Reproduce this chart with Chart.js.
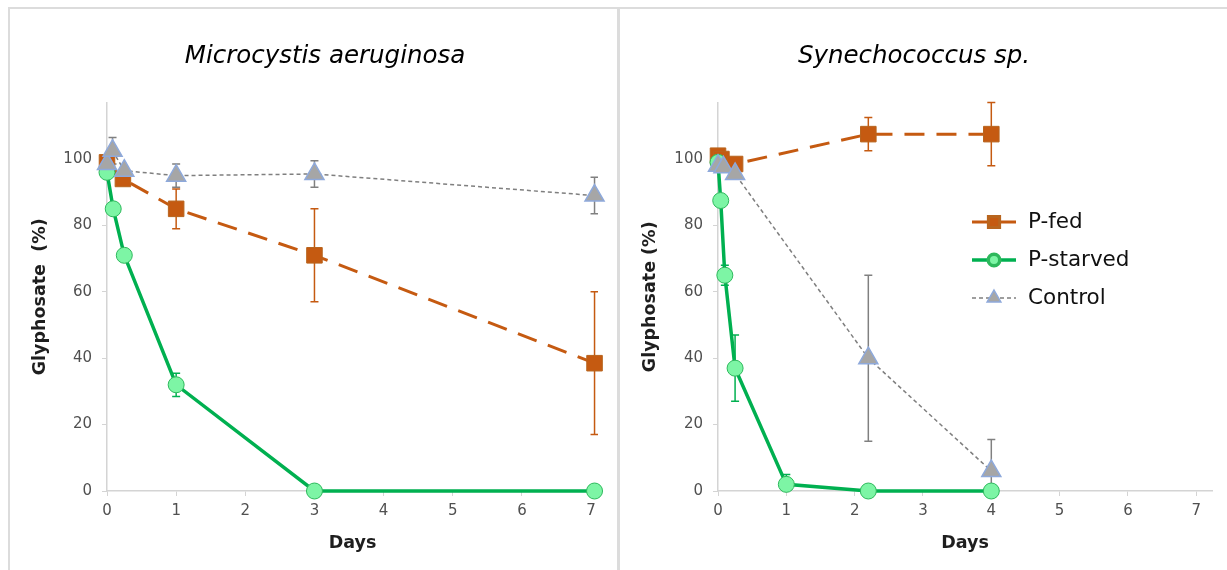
<!DOCTYPE html>
<html>
<head>
<meta charset="utf-8">
<script src="https://cdn.jsdelivr.net/npm/chart.js@4.4.1/dist/chart.umd.min.js"></script>
<style>
  body { margin: 0; background: #fff; }
  #wrap { position: relative; width: 1227px; height: 570px; overflow: hidden; }
  .ln { position: absolute; background: #dcdcdc; }
  #c1 { position: absolute; left: 0; top: 0; }
  #c2 { position: absolute; left: 620px; top: 0; }
</style>
</head>
<body>
<div id="wrap">
  <div class="ln" style="left:8px;top:7px;width:1219px;height:2px"></div>
  <div class="ln" style="left:8px;top:7px;width:2px;height:563px"></div>
  <div class="ln" style="left:617px;top:7px;width:3px;height:563px"></div>
  <canvas id="c1" width="617" height="570"></canvas>
  <canvas id="c2" width="607" height="570"></canvas>
</div>
<script>
  const seriesNames = ['P-fed', 'P-starved', 'Control'];
  const xTicks = [0, 1, 2, 3, 4, 5, 6, 7];
  const yTicks = [0, 20, 40, 60, 80, 100];

  // Microcystis aeruginosa
  const mFedDays = [0, 0.23, 1, 3, 7.05];
  const mFedVals = [99, 94, 85, 71, 38.5];
  const mFedErr = [0, 0, 6, 14, 21.5];
  const mStarvDays = [0, 0.09, 0.25, 1, 3, 7.05];
  const mStarvVals = [96, 85, 71, 32, 0, 0];
  const mStarvErr = [0, 0, 0, 3.5, 0, 0];
  const mCtrlDays = [0, 0.08, 0.25, 1, 3, 7.05];
  const mCtrlVals = [98.5, 102.5, 96.5, 95, 95.5, 89];
  const mCtrlErr = [0, 4, 0, 3.5, 4, 5.5];

  // Synechococcus sp.
  const sFedDays = [0, 0.05, 0.25, 2.2, 4];
  const sFedVals = [101, 100, 98.5, 107.5, 107.5];
  const sFedErr = [0, 0, 0, 5, 9.5];
  const sStarvDays = [0, 0.04, 0.1, 0.25, 1, 2.2, 4];
  const sStarvVals = [99, 87.5, 65, 37, 2, 0, 0];
  const sStarvErr = [0, 0, 3, 10, 3, 0, 0];
  const sCtrlDays = [0, 0.08, 0.25, 2.2, 4];
  const sCtrlVals = [98, 97.5, 95.5, 40, 6];
  const sCtrlErr = [0, 0, 0, 25, 9.5];

  const FONT = '"DejaVu Sans", Verdana, sans-serif';
  Chart.defaults.font.family = FONT;

  const toPoints = (xs, ys) => xs.map((x, i) => ({ x: x, y: ys[i] }));

  // error bars, drawn under the markers
  const errorBars = {
    id: 'errorBars',
    beforeDatasetsDraw(chart) {
      const { ctx, chartArea } = chart;
      const xs = chart.scales.x, ys = chart.scales.y;
      ctx.save();
      ctx.beginPath();
      ctx.rect(chartArea.left, chartArea.top - 20, chartArea.width, chartArea.height + 20);
      ctx.clip();
      chart.data.datasets.forEach(ds => {
        ds.data.forEach((p, i) => {
          const e = ds.errors[i];
          if (!e) return;
          const px = xs.getPixelForValue(p.x);
          const y1 = ys.getPixelForValue(p.y + e);
          const y2 = ys.getPixelForValue(p.y - e);
          ctx.strokeStyle = ds.errorColor;
          ctx.lineWidth = 1.5;
          ctx.beginPath();
          ctx.moveTo(px, y1); ctx.lineTo(px, y2);
          ctx.moveTo(px - 4, y1); ctx.lineTo(px + 4, y1);
          ctx.moveTo(px - 4, y2); ctx.lineTo(px + 4, y2);
          ctx.stroke();
        });
      });
      ctx.restore();
    }
  };

  const panelTitle = {
    id: 'panelTitle',
    afterDraw(chart, args, opts) {
      const ctx = chart.ctx;
      ctx.save();
      ctx.font = 'italic 24.5px ' + FONT;
      ctx.fillStyle = '#000';
      ctx.textAlign = 'center';
      ctx.textBaseline = 'middle';
      ctx.fillText(opts.text, opts.x, 57);
      ctx.restore();
    }
  };

  // legend inside the plot area
  const insideLegend = {
    id: 'insideLegend',
    afterDraw(chart, args, opts) {
      if (!opts.show) return;
      const ctx = chart.ctx;
      chart.data.datasets.forEach((ds, i) => {
        const y = opts.y + i * opts.step;
        ctx.save();
        ctx.strokeStyle = ds.borderColor;
        ctx.lineWidth = ds.borderWidth;
        ctx.setLineDash(i === 2 ? [4, 3] : []);
        ctx.beginPath();
        ctx.moveTo(opts.x, y);
        ctx.lineTo(opts.x + 44, y);
        ctx.stroke();
        ctx.setLineDash([]);
        ctx.fillStyle = ds.pointBackgroundColor;
        ctx.strokeStyle = ds.pointBorderColor;
        Chart.helpers.drawPoint(ctx, {
          pointStyle: ds.pointStyle,
          radius: ds.pointRadius * 0.72,
          borderWidth: ds.pointBorderWidth,
          rotation: 0
        }, opts.x + 22, y);
        ctx.font = '21.5px ' + FONT;
        ctx.fillStyle = '#111';
        ctx.textAlign = 'left';
        ctx.textBaseline = 'middle';
        ctx.fillText(ds.label, opts.x + 56, y);
        ctx.restore();
      });
    }
  };

  function makeDatasets(fed, starv, ctrl) {
    return [
      {
        label: seriesNames[0], data: fed.pts, errors: fed.err, errorColor: '#C55A11',
        showLine: true, borderColor: '#C55A11', borderWidth: 3, borderDash: [20, 12],
        pointStyle: 'rect', pointRadius: 11, pointBackgroundColor: '#C55A11',
        pointBorderColor: '#B8651E', pointBorderWidth: 1, order: 3, clip: false
      },
      {
        label: seriesNames[1], data: starv.pts, errors: starv.err, errorColor: '#00B050',
        showLine: true, borderColor: '#00B050', borderWidth: 3.5,
        pointStyle: 'circle', pointRadius: 8, pointBackgroundColor: '#7DF5A5',
        pointBorderColor: '#2EB85C', pointBorderWidth: 1, order: 2, clip: false
      },
      {
        label: seriesNames[2], data: ctrl.pts, errors: ctrl.err, errorColor: '#808080',
        showLine: true, borderColor: '#7F7F7F', borderWidth: 1.5, borderDash: [4, 3],
        pointStyle: 'triangle', pointRadius: 11, pointBackgroundColor: '#A6A6A6',
        pointBorderColor: '#8EA9DB', pointBorderWidth: 1.5, order: 1, clip: false
      }
    ];
  }

  function makeScales(xMax, yWidth, yTitle, yTitlePad) {
    const axisColor = '#d4d4d4';
    return {
      x: {
        type: 'linear', min: 0, max: xMax,
        afterBuildTicks: s => { s.ticks = xTicks.map(v => ({ value: v })); },
        afterFit: s => { s.height = 79; },
        grid: { display: true, drawOnChartArea: false, drawTicks: true, tickLength: 5, color: axisColor },
        border: { display: true, color: axisColor, width: 1.5 },
        ticks: { color: '#505050', font: { size: 15 }, padding: 6, maxRotation: 0 },
        title: { display: true, text: 'Days', color: '#1e1e1e', font: { size: 17.5, weight: 'bold' }, padding: { top: 0, bottom: 16.5 } }
      },
      y: {
        type: 'linear', min: 0, max: 117,
        afterBuildTicks: s => { s.ticks = yTicks.map(v => ({ value: v })); },
        afterFit: s => { s.width = yWidth; },
        grid: { display: true, drawOnChartArea: false, drawTicks: true, tickLength: 5, color: axisColor },
        border: { display: true, color: axisColor, width: 1.5 },
        ticks: { color: '#505050', font: { size: 15 }, padding: 10 },
        title: { display: true, text: yTitle, color: '#1e1e1e', font: { size: 17.5, weight: 'bold' }, padding: { top: yTitlePad, bottom: 0 } }
      }
    };
  }

  function makeChart(id, title, titleX, datasets, xMax, yWidth, yTitle, yTitlePad, padRight, legend) {
    return new Chart(document.getElementById(id), {
      type: 'scatter',
      data: { datasets: datasets },
      options: {
        responsive: false,
        animation: false,
        layout: { padding: { left: 0, right: padRight, top: 102.6, bottom: 0 } },
        scales: makeScales(xMax, yWidth, yTitle, yTitlePad),
        plugins: {
          legend: { display: false },
          tooltip: { enabled: false },
          panelTitle: { text: title, x: titleX },
          insideLegend: legend
        }
      },
      plugins: [errorBars, panelTitle, insideLegend]
    });
  }

  makeChart('c1', 'Microcystis aeruginosa', 325,
    makeDatasets(
      { pts: toPoints(mFedDays, mFedVals), err: mFedErr },
      { pts: toPoints(mStarvDays, mStarvVals), err: mStarvErr },
      { pts: toPoints(mCtrlDays, mCtrlVals), err: mCtrlErr }
    ),
    7.1, 107, 'Glyphosate  (%)', 29.5, 19, { show: false });

  makeChart('c2', 'Synechococcus sp.', 294,
    makeDatasets(
      { pts: toPoints(sFedDays, sFedVals), err: sFedErr },
      { pts: toPoints(sStarvDays, sStarvVals), err: sStarvErr },
      { pts: toPoints(sCtrlDays, sCtrlVals), err: sCtrlErr }
    ),
    7.23, 98, 'Glyphosate (%)', 19.5, 15, { show: true, x: 352, y: 222, step: 38 });
</script>
</body>
</html>
